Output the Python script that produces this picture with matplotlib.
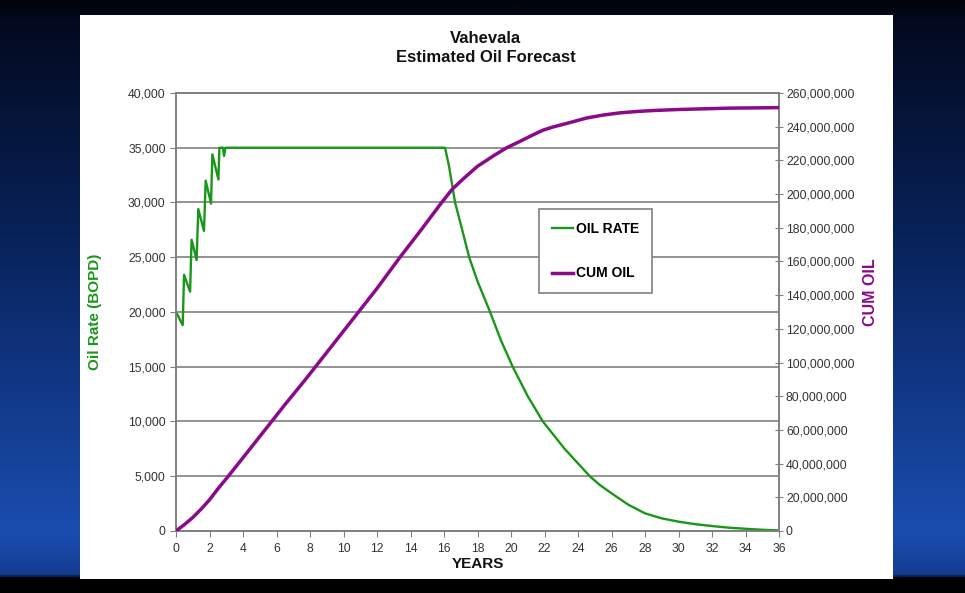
import numpy as np
import matplotlib.pyplot as plt
from matplotlib.patches import Rectangle
from matplotlib.colors import LinearSegmentedColormap
from matplotlib.ticker import FuncFormatter, MultipleLocator
from matplotlib.lines import Line2D

plt.rcParams['font.family'] = ['Liberation Sans', 'DejaVu Sans']

# oil rate (BOPD)
rate_years = [0, 0.4, 0.48, 0.84, 0.93, 1.23, 1.33, 1.67, 1.77, 2.09, 2.17, 2.53,
              2.59, 2.8, 2.87, 2.95, 8.0, 12.0, 16.06, 16.3, 16.66, 17.0, 17.5,
              18.0, 18.75, 19.4, 20.1, 21.0, 21.9, 23.2, 24.7, 25.3, 26.0, 27.0,
              28.0, 29.0, 30.0, 31.0, 32.0, 33.0, 34.0, 35.0, 36.0]
rate_bopd = [20000, 18800, 23400, 21850, 26600, 24750, 29400, 27400, 32000, 29900,
             34400, 32100, 35000, 35000, 34250, 35000, 35000, 35000, 35000, 33300,
             30000, 28000, 25000, 22800, 20000, 17400, 15000, 12300, 10000, 7500,
             5000, 4200, 3440, 2400, 1610, 1150, 850, 620, 450, 300, 200, 110, 50]

# cumulative oil (million barrels)
cum_years = [0, 0.5, 1, 1.5, 2, 2.5, 3.12, 4, 5.71, 6.5, 7.7, 9.0, 10.99, 12.0,
             13.37, 14.5, 15.86, 16.5, 17.2, 18.0, 19.0, 19.74, 20.54, 21.2, 21.9,
             22.5, 23.5, 24.5, 25.5, 26.5, 27.5, 28.5, 30.0, 31.5, 33.0, 36.0]
cum_mm = [0, 3.8, 8, 13, 18.5, 25, 32.5, 43.5, 65, 75, 89.6, 106, 131.2, 144,
          162.5, 177, 195, 203, 209.5, 216.5, 223, 227.5, 231.3, 234.6, 237.9,
          239.8, 242.4, 245.1, 246.9, 248.2, 249.0, 249.6, 250.2, 250.6, 251.0, 251.3]
cum_bbl = [v * 1e6 for v in cum_mm]

green = '#1a961a'
purple = '#8a0a8a'
grey = '#808080'
txt = '#333333'

fig = plt.figure(figsize=(9.65, 5.93), dpi=100)

# dark blue slide background
bg = fig.add_axes([0, 0, 1, 1], zorder=-10)
cmap = LinearSegmentedColormap.from_list('slide', [
    (0.0, '#02040c'), (0.03, '#030a1e'), (0.40, '#08225a'),
    (0.90, '#1a4db0'), (0.975, '#143c90'), (0.978, '#000000'), (1.0, '#000000')])
grad = np.linspace(0, 1, 300).reshape(-1, 1)
bg.imshow(grad, aspect='auto', cmap=cmap, extent=[0, 1, 0, 1], origin='upper')
bg.set_axis_off()
bg.add_patch(Rectangle((0.0829, 0.0236), 0.8425, 0.951, transform=bg.transAxes,
                       facecolor='white', edgecolor='none'))

ax = fig.add_axes([0.1824, 0.1046, 0.6249, 0.7386])
ax.set_facecolor('white')
ax2 = ax.twinx()

ax.plot(rate_years, rate_bopd, color=green, lw=1.7, zorder=3)
ax2.plot(cum_years, cum_bbl, color=purple, lw=2.5, zorder=3)

ax.set_xlim(0, 36)
ax.set_ylim(0, 40000)
ax2.set_ylim(0, 260e6)
ax.xaxis.set_major_locator(MultipleLocator(2))
ax.yaxis.set_major_locator(MultipleLocator(5000))
ax2.yaxis.set_major_locator(MultipleLocator(20e6))
comma = FuncFormatter(lambda v, p: f'{int(round(v)):,}')
ax.yaxis.set_major_formatter(comma)
ax2.yaxis.set_major_formatter(comma)

ax.grid(axis='y', color=grey, lw=1.2)
ax.set_axisbelow(True)
for a in (ax, ax2):
    for s in a.spines.values():
        s.set_color(grey)
        s.set_linewidth(1.2)
ax.tick_params(axis='both', direction='out', length=4, color=grey,
               labelsize=8.8, labelcolor=txt)
ax.tick_params(axis='x', pad=5)
ax2.tick_params(axis='y', direction='inout', length=6, color=grey,
                labelsize=8.8, labelcolor=txt, pad=2)

ax.set_xlabel('YEARS', fontsize=11, fontweight='bold', color='#111111', labelpad=1)
ax.set_ylabel('Oil Rate (BOPD)', fontsize=11, fontweight='bold', color=green, labelpad=19)
ax2.set_ylabel('CUM OIL', fontsize=11.5, fontweight='bold', color=purple)
ax2.yaxis.set_label_coords(1.14, 0.545)

fig.text(0.5035, 0.919, 'Vahevala\nEstimated Oil Forecast', ha='center', va='center',
         fontsize=12, fontweight='bold', color='#111111', linespacing=1.3)

handles = [Line2D([], [], color=green, lw=1.7), Line2D([], [], color=purple, lw=2.5)]
leg = ax.legend(handles, ['OIL RATE', 'CUM OIL'], loc='upper left',
                bbox_to_anchor=(0.591, 0.75), fancybox=False, framealpha=1,
                edgecolor=grey, handlelength=1.5, handletextpad=0.25,
                labelspacing=2.2, borderpad=0.9,
                prop={'weight': 'bold', 'size': 10})
leg.get_frame().set_linewidth(1.2)
leg.set_zorder(10)

fig.savefig('out.png', dpi=100)
